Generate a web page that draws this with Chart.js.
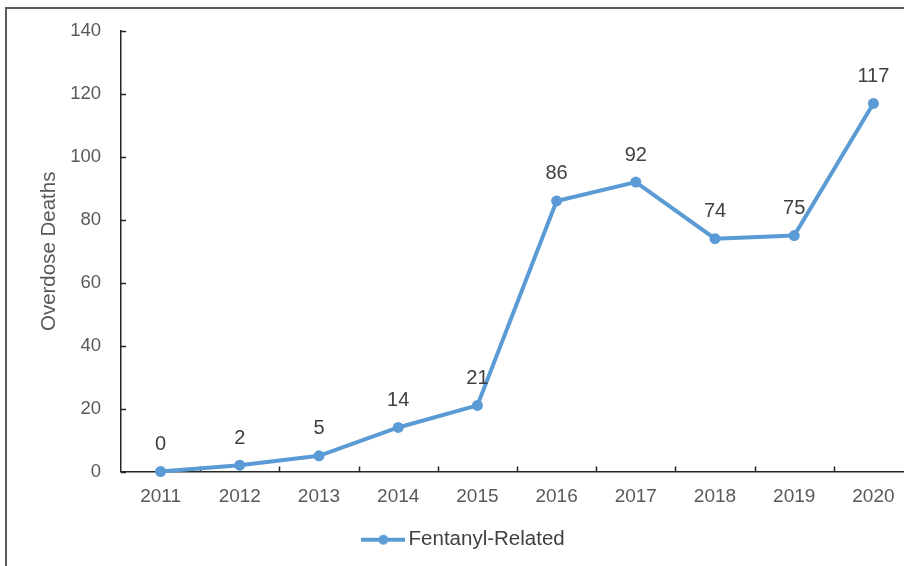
<!DOCTYPE html>
<html>
<head>
<meta charset="utf-8">
<script src="https://cdn.jsdelivr.net/npm/chart.js@4.4.0/dist/chart.umd.min.js"></script>
<style>
  html, body { margin: 0; padding: 0; background: #fff; overflow: hidden; }
  body { width: 904px; height: 566px; position: relative; }
  .frame {
    position: absolute; left: 5px; top: 7px; width: 920px; height: 580px;
    border-left: 2px solid #5a5a5a; border-top: 2px solid #5a5a5a;
  }
  .wrap { position: absolute; left: 0; top: 0; width: 920px; height: 566px; }
</style>
</head>
<body>
<div class="frame"></div>
<div class="wrap"><canvas id="chart"></canvas></div>
<script>
const years = ['2011', '2012', '2013', '2014', '2015', '2016', '2017', '2018', '2019', '2020'];
const fentanylDeaths = [0, 2, 5, 14, 21, 86, 92, 74, 75, 117];
const yTicks = [0, 20, 40, 60, 80, 100, 120, 140];

const FONT = "'Liberation Sans', Arial, sans-serif";
const LINE_COLOR = '#5B9BD5';
const AXIS_COLOR = '#262626';

// legend marker: line with a dot in the middle
function legendMarker() {
    const c = document.createElement('canvas');
    c.width = 44; c.height = 12;
    const g = c.getContext('2d');
    g.strokeStyle = LINE_COLOR;
    g.lineWidth = 4;
    g.beginPath(); g.moveTo(0, 6); g.lineTo(44, 6); g.stroke();
    g.fillStyle = LINE_COLOR;
    g.beginPath(); g.arc(22, 6, 5, 0, Math.PI * 2); g.fill();
    return c;
}

// inward tick marks on both axes
const innerTicks = {
    id: 'innerTicks',
    beforeDatasetsDraw(chart) {
        const ctx = chart.ctx;
        const x = chart.scales.x, y = chart.scales.y;
        ctx.save();
        ctx.strokeStyle = AXIS_COLOR;
        ctx.lineWidth = 1.5;
        ctx.beginPath();
        yTicks.forEach(v => {
            const py = Math.round(y.getPixelForValue(v)) + 0.5;
            ctx.moveTo(y.right, py);
            ctx.lineTo(y.right + 5, py);
        });
        const half = (x.getPixelForValue(1) - x.getPixelForValue(0)) / 2;
        for (let i = 0; i < years.length; i++) {
            const px = Math.round(x.getPixelForValue(i) + half) + 0.5;
            ctx.moveTo(px, x.top);
            ctx.lineTo(px, x.top - 5);
        }
        ctx.stroke();
        ctx.restore();
    }
};

// value labels above each point
const pointLabels = {
    id: 'pointLabels',
    afterDatasetsDraw(chart) {
        const ctx = chart.ctx;
        const meta = chart.getDatasetMeta(0);
        ctx.save();
        ctx.font = '20px ' + FONT;
        ctx.fillStyle = '#404040';
        ctx.textAlign = 'center';
        ctx.textBaseline = 'middle';
        meta.data.forEach((pt, i) => {
            ctx.fillText(String(fentanylDeaths[i]), pt.x, pt.y - 27);
        });
        ctx.restore();
    }
};

new Chart(document.getElementById('chart'), {
    type: 'line',
    data: {
        labels: years,
        datasets: [{
            label: 'Fentanyl-Related',
            data: fentanylDeaths,
            borderColor: LINE_COLOR,
            backgroundColor: LINE_COLOR,
            borderWidth: 4,
            pointRadius: 5.5,
            pointBackgroundColor: LINE_COLOR,
            pointBorderWidth: 0,
            tension: 0,
            clip: false,
        }]
    },
    options: {
        responsive: true,
        maintainAspectRatio: false,
        animation: false,
        layout: { padding: { left: 20, top: 30, right: 7, bottom: 6 } },
        plugins: {
            tooltip: { enabled: false },
            legend: {
                position: 'bottom',
                labels: {
                    usePointStyle: true,
                    pointStyle: legendMarker(),
                    pointStyleWidth: 30,
                    color: '#404040',
                    font: { family: FONT, size: 20.5 },
                    padding: 8,
                }
            }
        },
        scales: {
            x: {
                offset: true,
                grid: { display: false, drawTicks: false },
                border: { display: true, color: AXIS_COLOR, width: 1.5 },
                ticks: {
                    color: '#595959',
                    font: { family: FONT, size: 19 },
                    padding: 14,
                    maxRotation: 0,
                },
                afterFit(scale) { scale.height = 50; }
            },
            y: {
                min: 0,
                max: 140,
                grid: { display: false, drawTicks: false },
                border: { display: true, color: AXIS_COLOR, width: 1.5 },
                ticks: {
                    stepSize: 20,
                    color: '#595959',
                    font: { family: FONT, size: 18.5 },
                    padding: 20,
                },
                title: {
                    display: true,
                    text: 'Overdose Deaths',
                    color: '#595959',
                    font: { family: FONT, size: 20.5 },
                    padding: { top: 17, bottom: 0 },
                },
                afterFit(scale) { scale.width = 101; }
            }
        }
    },
    plugins: [innerTicks, pointLabels]
});
</script>
</body>
</html>
